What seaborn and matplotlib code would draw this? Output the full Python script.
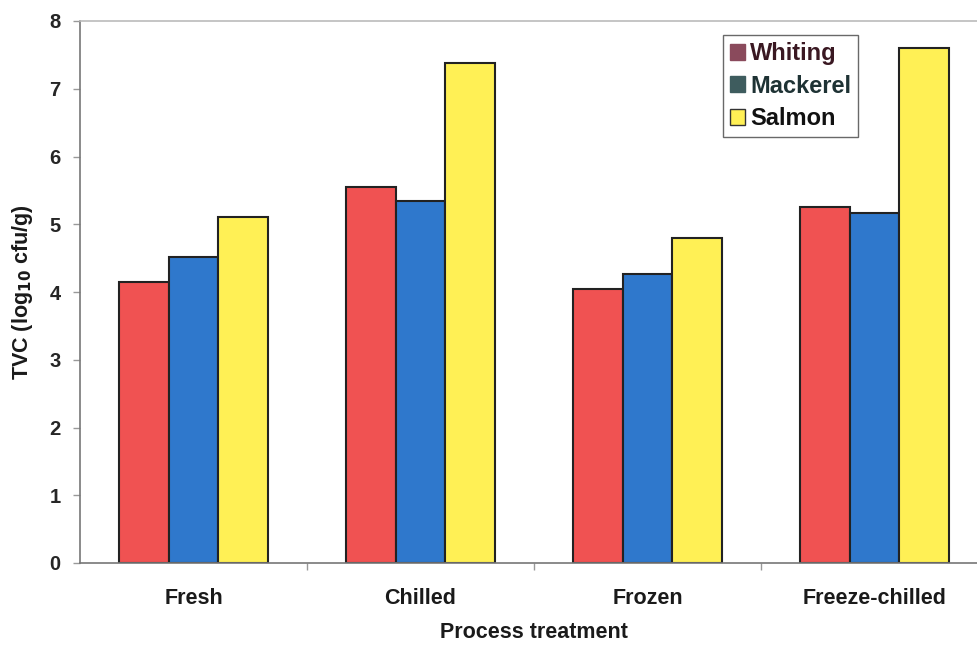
import matplotlib
matplotlib.use("Agg")
import matplotlib.pyplot as plt
import seaborn as sns
import pandas as pd
from matplotlib.patches import Patch
from matplotlib.ticker import FixedLocator

treatments = ["Fresh", "Chilled", "Frozen", "Freeze-chilled"]
species = ["Whiting", "Mackerel", "Salmon"]
whiting = [4.15, 5.55, 4.05, 5.25]
mackerel = [4.52, 5.35, 4.27, 5.17]
salmon = [5.10, 7.38, 4.80, 7.60]

bar_colors = ["#F05252", "#2F78CC", "#FFF055"]
legend_colors = ["#8A4A5C", "#3E5C5E", "#FFF055"]
legend_text_colors = ["#3A1822", "#1E3234", "#111111"]

df = pd.DataFrame({
    "treatment": treatments * 3,
    "species": [s for s in species for _ in treatments],
    "tvc": whiting + mackerel + salmon,
})

sns.set_theme(style="white")
plt.rcParams["font.family"] = ["Liberation Sans", "DejaVu Sans"]
plt.rcParams["font.weight"] = "bold"

fig = plt.figure(figsize=(9.78, 6.48), dpi=100)
ax = fig.add_axes([80 / 978, 85 / 648, 908 / 978, 542 / 648])

sns.barplot(data=df, x="treatment", y="tvc", hue="species", order=treatments,
            hue_order=species, palette=bar_colors, width=0.66, saturation=1,
            edgecolor="#222222", linewidth=1.5, legend=False, ax=ax)

ax.set_ylim(0, 8)
ax.set_xlim(-0.5, 3.5)
ax.set_yticks(range(0, 9))
ax.tick_params(axis="y", which="major", length=5, width=1, color="#999999",
               labelsize=14.5, pad=9, left=True)
ax.tick_params(axis="x", which="major", length=0, labelsize=15.5, pad=18)
ax.xaxis.set_minor_locator(FixedLocator([0.5, 1.5, 2.5]))
ax.tick_params(axis="x", which="minor", length=5, width=1, color="#999999",
               bottom=True)
for lbl in ax.get_xticklabels() + ax.get_yticklabels():
    lbl.set_fontweight("bold")
for lbl in ax.get_xticklabels():
    lbl.set_color("#1A1A1A")

for side in ["left", "bottom"]:
    ax.spines[side].set_color("#777777")
    ax.spines[side].set_linewidth(1.2)
ax.spines["top"].set_color("#BBBBBB")
ax.spines["top"].set_linewidth(1.2)
ax.spines["right"].set_visible(False)

ax.set_xlabel("Process treatment", fontsize=15.5, fontweight="bold",
              labelpad=9, color="#1A1A1A")
ax.set_ylabel("TVC (log$_{\\mathbf{10}}$ cfu/g)", fontsize=15.5,
              fontweight="bold", labelpad=10, color="#1A1A1A")

handles = [Patch(facecolor=c, edgecolor="#333333" if i == 2 else c, linewidth=1)
           for i, c in enumerate(legend_colors)]
leg = ax.legend(handles, species, loc="upper left",
                bbox_to_anchor=((723 - 80) / 908, (563 - 35) / 542),
                frameon=True, fancybox=False, edgecolor="#444444",
                fontsize=17, handlelength=0.65, handleheight=0.65,
                handletextpad=0.2, borderpad=0.3, labelspacing=0.4,
                borderaxespad=0)
leg.get_frame().set_linewidth(1.0)
for txt, c in zip(leg.get_texts(), legend_text_colors):
    txt.set_color(c)
    txt.set_fontweight("bold")

fig.savefig("out.png", dpi=100)
